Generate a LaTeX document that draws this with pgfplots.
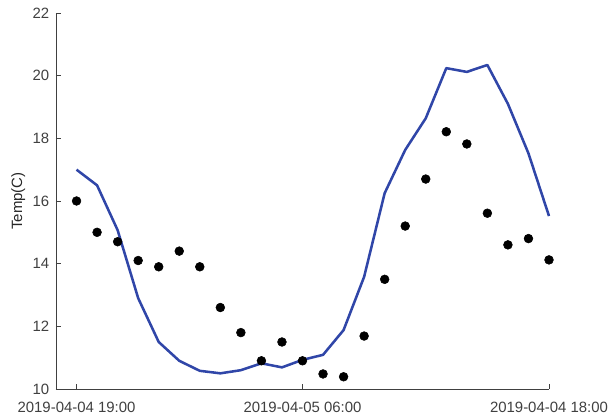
\documentclass[border=0pt]{standalone}
\usepackage{fontspec}
\setmainfont{Liberation Sans}
\usepackage{pgfplots}
\pgfplotsset{compat=1.18}
\definecolor{linecol}{RGB}{48,70,168}
\definecolor{axcol}{RGB}{64,64,64}
\begin{document}
\begin{tikzpicture}[x=1pt,y=1pt]
\useasboundingbox (0,0) rectangle (458.25,312);
\begin{axis}[
  at={(42pt,20.25pt)}, anchor=south west,
  scale only axis, width=369.75pt, height=282pt,
  xmin=-1, xmax=23, ymin=10, ymax=22,
  axis lines*=left,
  axis line style={axcol, line width=0.6pt, -},
  tick style={axcol, line width=0.6pt},
  tick align=inside, major tick length=3.5pt,
  xtick={0,11,23},
  xticklabels={2019-04-04 19:00, 2019-04-05 06:00, 2019-04-04 18:00},
  ytick={10,12,...,22},
  tick label style={font=\fontsize{11.2}{13}\selectfont, text=axcol},
  xticklabel style={yshift=-6.5pt},
  yticklabel style={xshift=-1.5pt},
  /pgf/number format/assume math mode=true,
  ylabel={Temp(C)},
  ylabel style={font=\fontsize{11.2}{13}\selectfont, text=black!85, at={(axis description cs:0,0.5)}, anchor=south, yshift=19.5pt},
  clip=false,
]
\addplot[linecol, line width=1.9pt, line join=round] coordinates {
(0,17.0) (1,16.5) (2,15.07) (3,12.9) (4,11.5) (5,10.9) (6,10.58) (7,10.5)
(8,10.6) (9,10.82) (10,10.69) (11,10.93) (12,11.09) (13,11.88) (14,13.58)
(15,16.25) (16,17.63) (17,18.64) (18,20.24) (19,20.12) (20,20.34) (21,19.1)
(22,17.52) (23,15.52)
};
\addplot[only marks, mark=*, mark size=3.3pt, black] coordinates {
(0,16.0) (1,15.0) (2,14.7) (3,14.1) (4,13.9) (5,14.4) (6,13.9) (7,12.6)
(8,11.8) (9,10.9) (10,11.5) (11,10.9) (12,10.48) (13,10.39) (14,11.69)
(15,13.5) (16,15.2) (17,16.7) (18,18.21) (19,17.82) (20,15.61) (21,14.6)
(22,14.8) (23,14.12)
};
\end{axis}
\end{tikzpicture}
\end{document}
